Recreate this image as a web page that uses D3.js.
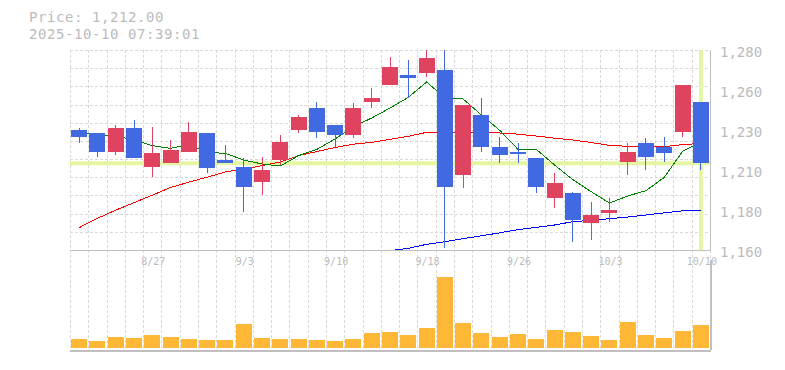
<!DOCTYPE html>
<html>
<head>
<meta charset="utf-8">
<script src="https://cdn.jsdelivr.net/npm/d3@7"></script>
<style>
    body { margin: 0; background: #fff; }
    text { font-family: "DejaVu Sans Mono", monospace; }
</style>
</head>
<body>
<svg id="chart" width="785" height="370"></svg>
<script>
let dates = ['8/21', '8/22', '8/25', '8/26', '8/27', '8/28', '8/29', '9/1', '9/2', '9/3',
    '9/4', '9/5', '9/8', '9/9', '9/10', '9/11', '9/12', '9/16', '9/17', '9/18',
    '9/19', '9/22', '9/24', '9/25', '9/26', '9/29', '9/30', '10/1', '10/2', '10/3',
    '10/6', '10/7', '10/8', '10/9', '10/10'];
let opens  = [1232, 1230, 1219, 1233, 1210, 1212, 1219, 1230, 1214, 1210, 1201, 1214, 1232, 1245, 1235, 1229, 1249, 1259,
    1265, 1266, 1268, 1205, 1241, 1222, 1219, 1215, 1191, 1194, 1176, 1182, 1213, 1224, 1222, 1231, 1249];
let highs  = [1233, 1230, 1235, 1238, 1234, 1226, 1237, 1230, 1223, 1215, 1216, 1229, 1241, 1249, 1235, 1248, 1257, 1276,
    1274, 1281, 1281, 1247, 1251, 1228, 1224, 1215, 1206, 1195, 1189, 1191, 1224, 1227, 1228, 1259, 1249];
let lows   = [1224, 1216, 1217, 1215, 1204, 1212, 1219, 1206, 1212, 1183, 1193, 1211, 1230, 1227, 1222, 1227, 1245, 1259,
    1251, 1264, 1161, 1197, 1219, 1212, 1212, 1194, 1185, 1165, 1166, 1177, 1205, 1208, 1213, 1228, 1208];
let closes = [1228, 1219, 1233, 1215, 1218, 1220, 1231, 1209, 1212, 1198, 1208, 1225, 1240, 1231, 1229, 1245, 1251, 1270,
    1263, 1275, 1198, 1247, 1222, 1217, 1218, 1198, 1200, 1178, 1181, 1184, 1219, 1216, 1218, 1259, 1212];
let volumes = [10.6, 8.3, 12.8, 11.7, 15.1, 12.8, 10.6, 9.4, 9.4, 27.6, 11.7, 10.6, 10.6, 9.4, 8.3, 10.6, 17.4, 18.4,
    14.8, 22.7, 81, 28.4, 17, 12.5, 15.9, 10.2, 20.5, 18.2, 13.6, 9.1, 29.5, 14.8, 11.4, 19.3, 26.1];
let ma5  = [1230, 1229.4, 1228.4, 1226, 1222.6, 1221, 1223.4, 1218.6, 1218, 1214, 1211.6, 1210.4, 1216.6, 1220.4,
    1226.6, 1234, 1239.2, 1245.2, 1251.6, 1260.8, 1251.4, 1250.6, 1241, 1231.8, 1220.4, 1220.4, 1211, 1202.2, 1195,
    1188.2, 1192.4, 1195.6, 1203.6, 1219.2, 1224.8];
let ma25 = [1173.4, 1179, 1183.9, 1188.4, 1192.9, 1197.5, 1200.7, 1203.7, 1206.8, 1208.6, 1210.6, 1212.8, 1216.6,
    1219.1, 1221.5, 1223.5, 1224.6, 1226.4, 1228.2, 1230.6, 1230.2, 1230.6, 1230.5, 1230.2, 1229.5, 1228.4, 1227.1,
    1226, 1224.5, 1222.8, 1222.2, 1222, 1222, 1223.2, 1224];
let ma75 = [null, null, null, null, null, null, null, null, null, null, null, null, null, null, null, null, 1158,
    1159.6, 1161, 1163.4, 1165, 1166.8, 1168.5, 1170.3, 1172.2, 1173.6, 1175, 1177, 1177.8, 1178.8, 1179.8, 1181,
    1182.3, 1183.5, 1184];
let yTicks = [1160, 1184, 1208, 1232, 1256, 1280];
let yTickLabels = ['1,160', '1,180', '1,210', '1,230', '1,260', '1,280'];
let xTickLabels = ['8/27', '9/3', '9/10', '9/18', '9/26', '10/3', '10/10'];
let currentPrice = 1212;
let titleLines = ['Price: 1,212.00', '2025-10-10 07:39:01'];

let svg = d3.select('#chart');
let left = 70, right = 710, priceTop = 50, priceBottom = 250, volTop = 260, volBottom = 348, volAxis = 350;
let gridColor = '#d9d9d9', frameColor = '#c0c0c0', labelColor = '#bbbbbb';
let upColor = '#e0435f', downColor = '#4169e1';

let x = d3.scaleBand().domain(dates).range([left, right]);
let y = d3.scaleLinear().domain([1160, 1280]).range([priceBottom, priceTop]);
let yVol = d3.scaleLinear().domain([0, 100]).range([volBottom, volTop]);
let bodyW = 16;
let cx = d => x(d) + x.bandwidth() / 2;

svg.append('defs').append('clipPath').attr('id', 'priceClip')
    .append('rect')
    .attr('x', left).attr('y', priceTop)
    .attr('width', right - left).attr('height', priceBottom - priceTop);

// grid
let grid = svg.append('g').attr('shape-rendering', 'crispEdges');
let vLines = d3.range(dates.length + 1).map(k => left + k * x.step());
grid.selectAll('line.v')
    .data(vLines)
    .enter()
    .append('line')
    .attr('x1', d => Math.round(d) + 0.5)
    .attr('x2', d => Math.round(d) + 0.5)
    .attr('y1', priceTop)
    .attr('y2', volAxis)
    .attr('stroke', gridColor)
    .attr('stroke-dasharray', '3,2');

let hValues = d3.range(12).map(k => 1160 + k * 120 / 11);
grid.selectAll('line.h')
    .data(hValues)
    .enter()
    .append('line')
    .attr('x1', left)
    .attr('x2', right)
    .attr('y1', d => Math.round(y(d)) + 0.5)
    .attr('y2', d => Math.round(y(d)) + 0.5)
    .attr('stroke', gridColor)
    .attr('stroke-dasharray', '3,2');

// frame
grid.append('line')
    .attr('x1', left).attr('x2', right + 1)
    .attr('y1', priceBottom + 0.5).attr('y2', priceBottom + 0.5)
    .attr('stroke', frameColor);
grid.append('line')
    .attr('x1', right + 0.5).attr('x2', right + 0.5)
    .attr('y1', priceTop).attr('y2', priceBottom)
    .attr('stroke', frameColor);
grid.append('line')
    .attr('x1', left).attr('x2', right + 1)
    .attr('y1', volAxis + 0.5).attr('y2', volAxis + 0.5)
    .attr('stroke', frameColor)
    .attr('stroke-width', 2);
grid.append('line')
    .attr('x1', right + 0.5).attr('x2', right + 0.5)
    .attr('y1', volTop).attr('y2', volAxis)
    .attr('stroke', frameColor)
    .attr('stroke-width', 2);

let price = svg.append('g').attr('clip-path', 'url(#priceClip)');

// current price markers
price.append('line')
    .attr('x1', left).attr('x2', right)
    .attr('y1', y(currentPrice)).attr('y2', y(currentPrice))
    .attr('stroke', '#e4f6a2')
    .attr('stroke-width', 4);
price.append('line')
    .attr('x1', cx(dates[dates.length - 1])).attr('x2', cx(dates[dates.length - 1]))
    .attr('y1', priceTop).attr('y2', priceBottom)
    .attr('stroke', '#e4f6a2')
    .attr('stroke-width', 4);

// moving averages
let maLines = [{ values: ma75, color: '#0000ff' }, { values: ma25, color: '#ff0000' }, { values: ma5, color: '#008000' }];
maLines.forEach(m => {
    let line = d3.line()
        .defined(d => d !== null)
        .x((d, i) => cx(dates[i]))
        .y(d => y(d));
    price.append('path')
        .attr('d', line(m.values))
        .attr('fill', 'none')
        .attr('stroke', m.color)
        .attr('stroke-width', 1)
        .attr('shape-rendering', 'crispEdges');
});

// candles
let candles = price.selectAll('g.candle')
    .data(dates)
    .enter()
    .append('g')
    .attr('shape-rendering', 'crispEdges');

candles.append('line')
    .attr('x1', d => Math.floor(cx(d)) + 0.5)
    .attr('x2', d => Math.floor(cx(d)) + 0.5)
    .attr('y1', (d, i) => y(highs[i]))
    .attr('y2', (d, i) => y(lows[i]))
    .attr('stroke', (d, i) => closes[i] >= opens[i] ? upColor : downColor)
    .attr('stroke-width', 1);

candles.append('rect')
    .attr('x', d => Math.round(cx(d) - bodyW / 2))
    .attr('y', (d, i) => y(Math.max(opens[i], closes[i])))
    .attr('width', bodyW)
    .attr('height', (d, i) => Math.max(2, Math.abs(y(opens[i]) - y(closes[i]))))
    .attr('fill', (d, i) => closes[i] >= opens[i] ? upColor : downColor);

// volume
svg.append('g')
    .attr('shape-rendering', 'crispEdges')
    .selectAll('rect')
    .data(dates)
    .enter()
    .append('rect')
    .attr('x', d => Math.round(cx(d) - bodyW / 2))
    .attr('y', (d, i) => yVol(volumes[i]))
    .attr('width', bodyW)
    .attr('height', (d, i) => volBottom - yVol(volumes[i]))
    .attr('fill', '#ffb835');

// axes
let yAxis = svg.append('g')
    .attr('transform', `translate(${right + 10}, 0)`)
    .call(d3.axisRight(y).tickValues(yTicks).tickSize(0).tickFormat((d, i) => yTickLabels[i]));
yAxis.select('.domain').remove();
yAxis.selectAll('text')
    .attr('x', 0)
    .attr('dy', '0.45em')
    .attr('fill', labelColor)
    .style('font-size', '14px')
    .style('font-family', '"DejaVu Sans Mono", monospace');

let xAxis = svg.append('g')
    .attr('transform', `translate(1, ${priceBottom})`)
    .call(d3.axisBottom(x).tickValues(xTickLabels).tickSize(0));
xAxis.select('.domain').remove();
xAxis.selectAll('text')
    .attr('y', 15)
    .attr('dy', 0)
    .attr('fill', labelColor)
    .style('font-size', '10px')
    .style('font-family', '"DejaVu Sans Mono", monospace');

// title
svg.append('g')
    .selectAll('text')
    .data(titleLines)
    .enter()
    .append('text')
    .attr('x', 29)
    .attr('y', (d, i) => 22 + i * 16.5)
    .attr('fill', labelColor)
    .style('font-size', '14px')
    .style('letter-spacing', '0.57px')
    .text(d => d);
</script>
</body>
</html>
